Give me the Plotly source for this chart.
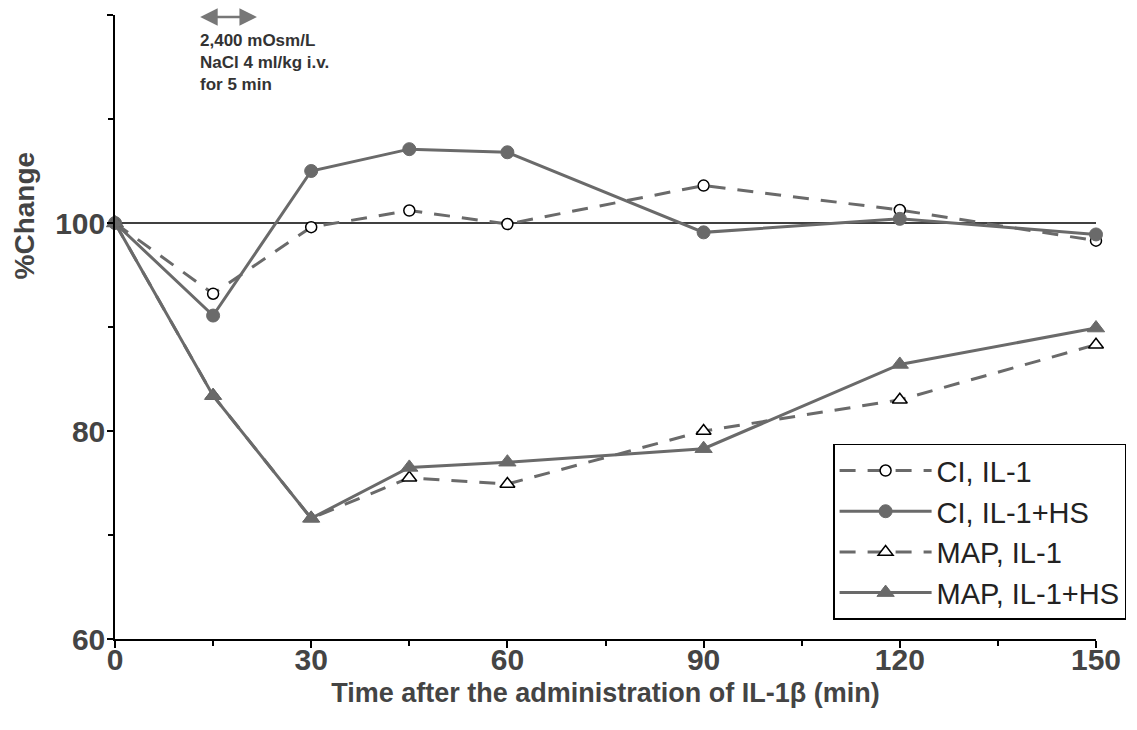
import plotly.graph_objects as go

time_min = [0, 15, 30, 45, 60, 90, 120, 150]
ci_il1 = [100, 93.2, 99.6, 101.2, 99.9, 103.6, 101.25, 98.3]
ci_il1_hs = [100, 91.1, 105.0, 107.1, 106.8, 99.1, 100.4, 98.9]
map_il1 = [100, 83.4, 71.6, 75.5, 74.9, 80.0, 83.0, 88.3]
map_il1_hs = [100, 83.4, 71.6, 76.5, 77.0, 78.3, 86.4, 89.9]

x_ticks = [0, 30, 60, 90, 120, 150]
y_ticks = [60, 80, 100, 120]

GRAY = "#6a6a6a"
FONT = "Liberation Sans"

fig = go.Figure()

fig.add_shape(type="line", x0=0, x1=150, y0=100, y1=100, xref="x", yref="y",
              line=dict(color="black", width=1.5), layer="below")

fig.add_trace(go.Scatter(
    x=time_min, y=ci_il1, name="CI, IL-1", mode="lines+markers",
    line=dict(color=GRAY, width=3, dash="16px,12px"),
    marker=dict(symbol="circle", size=11, color="white", line=dict(color="black", width=1.5)),
    cliponaxis=False))
fig.add_trace(go.Scatter(
    x=time_min, y=ci_il1_hs, name="CI, IL-1+HS", mode="lines+markers",
    line=dict(color=GRAY, width=3),
    marker=dict(symbol="circle", size=13, color=GRAY, line=dict(color=GRAY, width=1)),
    cliponaxis=False))
fig.add_trace(go.Scatter(
    x=time_min, y=map_il1, name="MAP, IL-1", mode="lines+markers",
    line=dict(color=GRAY, width=3, dash="16px,12px"),
    marker=dict(symbol="triangle-up", size=13, color="white", line=dict(color="black", width=1.5)),
    cliponaxis=False))
fig.add_trace(go.Scatter(
    x=time_min, y=map_il1_hs, name="MAP, IL-1+HS", mode="lines+markers",
    line=dict(color=GRAY, width=3),
    marker=dict(symbol="triangle-up", size=15, color=GRAY, line=dict(color=GRAY, width=1)),
    cliponaxis=False))

# infusion arrow
fig.add_annotation(x=21.7, y=119.8, ax=12.8, ay=119.8, xref="x", yref="y", axref="x", ayref="y",
                   text="", showarrow=True, arrowside="end+start", arrowhead=2,
                   arrowsize=1.4, arrowwidth=2.5, arrowcolor="#777777")
fig.add_annotation(x=12.7, y=118.7, xref="x", yref="y", xanchor="left", yanchor="top",
                   align="left", showarrow=False,
                   text="<b>2,400 mOsm/L<br>NaCl 4 ml/kg i.v.<br>for 5 min</b>",
                   font=dict(family=FONT, size=17, color="#333333"))

# y-axis title (placed near the 100 level as in the original)
fig.add_annotation(x=-0.092, y=100.7, xref="paper", yref="y", xanchor="center", yanchor="middle",
                   textangle=-90, showarrow=False, text="<b>%Change</b>",
                   font=dict(family=FONT, size=28, color="#444444"))

fig.update_layout(
    width=1137, height=730,
    margin=dict(l=107, r=49, t=7, b=99),
    paper_bgcolor="white", plot_bgcolor="white",
    showlegend=True,
    legend=dict(x=0.732, y=0.172, xanchor="left", yanchor="middle",
                bgcolor="white", bordercolor="black", borderwidth=1.5,
                font=dict(family=FONT, size=29, color="#222222"),
                itemwidth=92, tracegroupgap=0),
    font=dict(family=FONT),
)

fig.update_xaxes(
    range=[0, 150], tickvals=x_ticks, ticktext=[str(v) for v in x_ticks],
    showline=True, linecolor="black", linewidth=1.5, mirror=False,
    ticks="outside", ticklen=7, tickwidth=1.5, tickcolor="black",
    ticklabelstandoff=-14,
    minor=dict(tickvals=[15, 45, 75, 105, 135], ticks="outside", ticklen=5, tickcolor="black"),
    showgrid=False, zeroline=False,
    tickfont=dict(family=FONT, size=30, color="#444444", weight="bold"),
    title=dict(text="<b>Time after the administration of IL-1β (min)</b>",
               font=dict(family=FONT, size=27, color="#444444"), standoff=8),
)
fig.update_yaxes(
    range=[60, 120], tickvals=y_ticks, ticktext=[str(v) for v in y_ticks],
    showline=True, linecolor="black", linewidth=1.5, mirror=False,
    ticks="outside", ticklen=6, tickwidth=1.5, tickcolor="black",
    ticklabelstandoff=-4,
    minor=dict(tickvals=[70, 90, 110], ticks="outside", ticklen=5, tickcolor="black"),
    showgrid=False, zeroline=False,
    tickfont=dict(family=FONT, size=30, color="#444444", weight="bold"),
)

fig.write_html("out.html")
